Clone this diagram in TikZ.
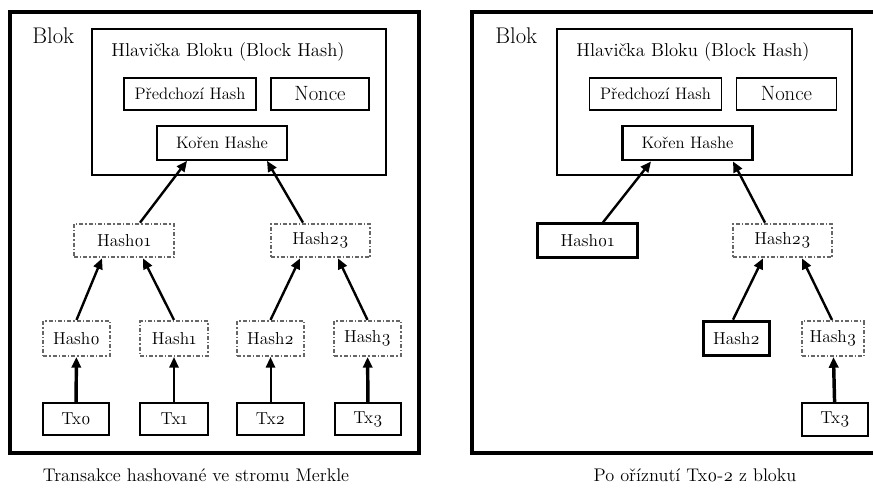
\documentclass[tikz,border=0pt]{standalone}
\usepackage{fontspec}
\setmainfont{Latin Modern Roman}[Numbers=OldStyle]
\usetikzlibrary{arrows.meta,calc}
\tikzset{
  box/.style={draw,line width=1.3pt,inner sep=0pt,font=\fontsize{13}{15}\selectfont},
  boldbox/.style={box,line width=2.2pt},
  dashbox/.style={box,draw=black!60,line width=1.8pt,dash pattern=on 3pt off 1.5pt on 1pt off 1.5pt},
  arr/.style={line width=1.8pt,-{Triangle[length=8pt,width=7pt]}},
  thinarr/.style={arr,line width=1.5pt},
  thickarr/.style={arr,line width=2.6pt},
  bigtext/.style={inner sep=0pt,font=\fontsize{14}{16}\selectfont},
  blokname/.style={inner sep=0pt,anchor=west,font=\fontsize{17}{19}\selectfont},
}
\begin{document}
\begin{tikzpicture}[x=0.75pt,y=0.75pt,yscale=-1,xscale=1]
\useasboundingbox (0,0) rectangle (873,488);
% left block: whole tree
\draw [line width=3pt] (10,12) rectangle (419,453) ;
\draw [line width=2.2pt] (92,29) rectangle (386,175) ;
\draw (32,36) node [blokname] (blokA) {Blok};
\draw (228,52) node [bigtext] (hlavA) {Hlavička Bloku (Block Hash)};
\draw (190,94) node [box,minimum width=99pt,minimum height=24pt,font=\fontsize{12.5}{14}\selectfont] (prevA) {Předchozí Hash};
\draw (320,94) node [box,minimum width=73.5pt,minimum height=24pt,font=\fontsize{15.5}{17}\selectfont] (nonceA) {Nonce};
\draw (222,143) node [box,minimum width=97.5pt,minimum height=25.5pt,font=\fontsize{12.5}{14}\selectfont] (rootA) {Kořen Hashe};
\draw (124,240.5) node [dashbox,minimum width=75pt,minimum height=25pt] (hash01A) {Hash01};
\draw (320.5,240.5) node [dashbox,minimum width=74pt,minimum height=25pt] (hash23A) {Hash23};
\draw (76.5,338.5) node [dashbox,minimum width=50pt,minimum height=26pt] (hash0A) {Hash0};
\draw (174,338.5) node [dashbox,minimum width=51pt,minimum height=26pt] (hash1A) {Hash1};
\draw (270.5,338.5) node [dashbox,minimum width=50pt,minimum height=26pt] (hash2A) {Hash2};
\draw (367.5,338.5) node [dashbox,minimum width=50pt,minimum height=26pt] (hash3A) {Hash3};
\draw (76,419) node [box,minimum width=49.5pt,minimum height=24pt] (tx0A) {Tx0};
\draw (174,419) node [box,minimum width=51pt,minimum height=24pt] (tx1A) {Tx1};
\draw (270.5,419) node [box,minimum width=50pt,minimum height=24pt] (tx2A) {Tx2};
\draw (368,419) node [box,minimum width=49.5pt,minimum height=24pt] (tx3A) {Tx3};
\draw (196,475) node [bigtext,font=\fontsize{13.7}{16}\selectfont] (capA) {Transakce hashované ve stromu Merkle};
\draw [arr] ($(hash01A.north)+(16,0)$) -- ($(rootA.south)+(-35,0)$) ;
\draw [arr] ($(hash23A.north)+(-17.5,0)$) -- ($(rootA.south)+(45,0)$) ;
\draw [arr] (hash0A.north) -- ($(hash01A.south)+(-22,0)$) ;
\draw [arr] (hash1A.north) -- ($(hash01A.south)+(19,0)$) ;
\draw [arr] (hash2A.north) -- ($(hash23A.south)+(-20.5,0)$) ;
\draw [arr] (hash3A.north) -- ($(hash23A.south)+(17.5,0)$) ;
\draw [thickarr] (tx0A) -- (hash0A) ;
\draw [thinarr] (tx1A) -- (hash1A) ;
\draw [thinarr] (tx2A) -- (hash2A) ;
\draw [thickarr] (tx3A) -- (hash3A) ;
% right block: after pruning
\draw [line width=3pt] (472,12) rectangle (875,453) ;
\draw [line width=2.2pt] (557,29) rectangle (852,175) ;
\draw (495,36) node [blokname] (blokB) {Blok};
\draw (693,52) node [bigtext] (hlavB) {Hlavička Bloku (Block Hash)};
\draw (655.5,94) node [box,minimum width=99pt,minimum height=24pt,font=\fontsize{12.5}{14}\selectfont] (prevB) {Předchozí Hash};
\draw (786.5,94) node [box,minimum width=75pt,minimum height=24pt,font=\fontsize{15.5}{17}\selectfont] (nonceB) {Nonce};
\draw (687.5,143) node [boldbox,minimum width=98pt,minimum height=25.5pt,font=\fontsize{12.5}{14}\selectfont] (rootB) {Kořen Hashe};
\draw (587.5,240.5) node [boldbox,minimum width=75.5pt,minimum height=25pt] (hash01B) {Hash01};
\draw (782.5,240.5) node [dashbox,minimum width=74pt,minimum height=25pt] (hash23B) {Hash23};
\draw (736.5,338.5) node [boldbox,minimum width=50pt,minimum height=26pt] (hash2B) {Hash2};
\draw (833,338.5) node [dashbox,minimum width=46.5pt,minimum height=26pt] (hash3B) {Hash3};
\draw (835,419.5) node [box,minimum width=49.5pt,minimum height=24.5pt] (tx3B) {Tx3};
\draw (695,475) node [bigtext,font=\fontsize{13.7}{16}\selectfont] (capB) {Po oříznutí Tx0-2 z bloku};
\draw [arr] ($(hash01B.north)+(15.5,0)$) -- ($(rootB.south)+(-36.5,0)$) ;
\draw [arr] ($(hash23B.north)+(-17.5,0)$) -- ($(rootB.south)+(45.5,0)$) ;
\draw [arr] ($(hash2B.north)+(-3.5,0)$) -- ($(hash23B.south)+(-19.5,0)$) ;
\draw [arr] ($(hash3B.north)+(-1,0)$) -- ($(hash23B.south)+(19.5,0)$) ;
\draw [thickarr] (tx3B) -- (hash3B) ;
\end{tikzpicture}
\end{document}
